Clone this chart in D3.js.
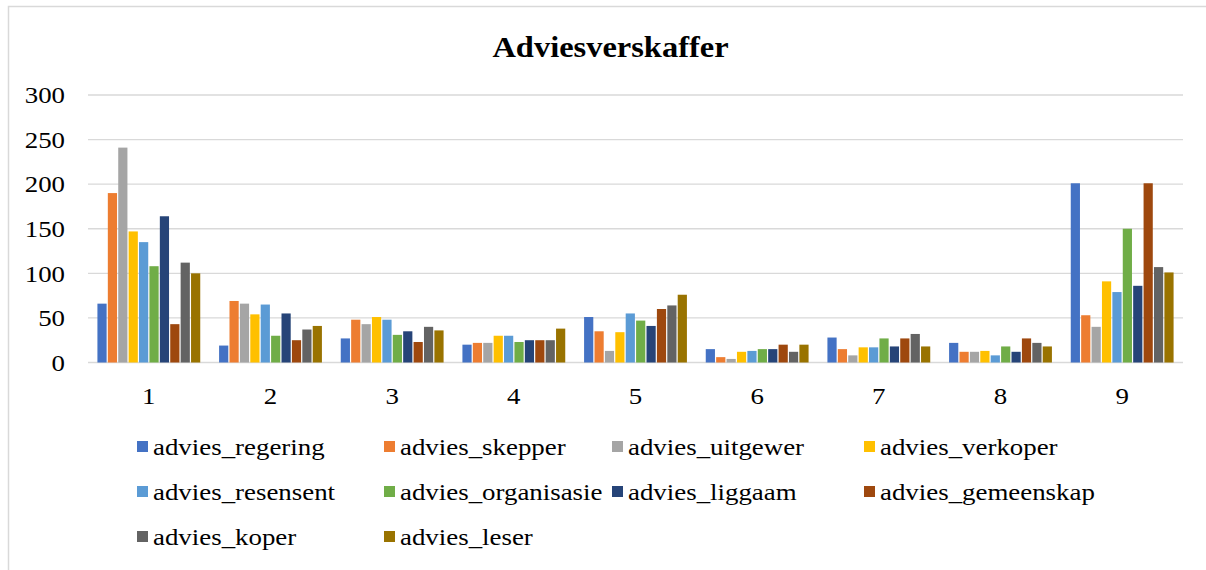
<!DOCTYPE html>
<html><head><meta charset="utf-8">
<script src="https://cdn.jsdelivr.net/npm/d3@7"></script>
<style>body{margin:0;background:#fff}svg{display:block}</style>
</head><body><svg id="c" width="1206" height="570"></svg>
<script>
const categories = ["1","2","3","4","5","6","7","8","9"];
const seriesNames = ["advies_regering","advies_skepper","advies_uitgewer","advies_verkoper","advies_resensent","advies_organisasie","advies_liggaam","advies_gemeenskap","advies_koper","advies_leser"];
const seriesColors = ["#4472C4","#ED7D31","#A5A5A5","#FFC000","#5B9BD5","#70AD47","#264478","#9E480E","#636363","#997300"];
const advies_regering    = [66, 19, 27, 20, 51, 15, 28, 22, 201];
const advies_skepper     = [190, 69, 48, 22, 35, 6, 15, 12, 53];
const advies_uitgewer    = [241, 66, 43, 22, 13, 4, 8, 12, 40];
const advies_verkoper    = [147, 54, 51, 30, 34, 12, 17, 13, 91];
const advies_resensent   = [135, 65, 48, 30, 55, 13, 17, 8, 79];
const advies_organisasie = [108, 30, 31, 23, 47, 15, 27, 18, 150];
const advies_liggaam     = [164, 55, 35, 25, 41, 15, 18, 12, 86];
const advies_gemeenskap  = [43, 25, 23, 25, 60, 20, 27, 27, 201];
const advies_koper       = [112, 37, 40, 25, 64, 12, 32, 22, 107];
const advies_leser       = [100, 41, 36, 38, 76, 20, 18, 18, 101];
const yTicks = [0, 50, 100, 150, 200, 250, 300];
const title = "Adviesverskaffer";

const seriesValues = [advies_regering, advies_skepper, advies_uitgewer, advies_verkoper, advies_resensent,
  advies_organisasie, advies_liggaam, advies_gemeenskap, advies_koper, advies_leser];

const FONT = "'Liberation Serif', Tinos, 'Times New Roman', serif";
const SX = 1.12; // horizontal stretch of the reference's text
const svg = d3.select("#c");
svg.append("rect").attr("x",8.5).attr("y",6.5).attr("width",1300).attr("height",700)
  .attr("fill","none").attr("stroke","#d9d9d9").attr("stroke-width",1.5);

const plot = {left:88, right:1183, top:95, bottom:362.5};
const x = d3.scaleBand().domain(categories).range([plot.left, plot.right]).paddingInner(0.145).paddingOuter(0.0725);
const xs = d3.scaleBand().domain(seriesNames).range([0, x.bandwidth()]);
const y = d3.scaleLinear().domain([0,300]).range([plot.bottom, plot.top]);

svg.append("g").selectAll("line").data(yTicks).join("line")
  .attr("x1",plot.left).attr("x2",plot.right)
  .attr("y1",d=>y(d)).attr("y2",d=>y(d))
  .attr("stroke","#d9d9d9").attr("stroke-width",1.3);

const yAxis = d3.axisLeft(y).tickValues(yTicks).tickSize(0).tickPadding(23/SX);
const ya = svg.append("g").attr("transform",`translate(${plot.left},0)`).call(yAxis)
  .attr("font-family",FONT).attr("font-size",24);
ya.select(".domain").remove();
ya.selectAll("text").attr("fill","#000").attr("transform",`scale(${SX},1)`);

const xAxis = d3.axisBottom(x).tickSize(0).tickPadding(24);
const xa = svg.append("g").attr("transform",`translate(0,${plot.bottom})`).call(xAxis)
  .attr("font-family",FONT).attr("font-size",24);
xa.select(".domain").remove();
xa.selectAll("text").attr("fill","#000").attr("transform",`scale(${SX},1)`);

const groups = svg.append("g").selectAll("g").data(categories).join("g")
  .attr("transform",d=>`translate(${x(d)},0)`);
groups.selectAll("rect").data((c,i)=>seriesNames.map((s,k)=>({s, v:seriesValues[k][i], k})))
  .join("rect")
  .attr("x",d=>xs(d.s)+0.6).attr("width",xs.bandwidth()-1.2)
  .attr("y",d=>y(d.v)).attr("height",d=>y(0)-y(d.v))
  .attr("fill",d=>seriesColors[d.k]);

svg.append("text").attr("transform",`translate(610.5,57) scale(${SX},1)`).attr("text-anchor","middle")
  .attr("font-family",FONT).attr("font-size",29).attr("font-weight","bold").text(title);

const colX = [137, 384, 612, 864];
const rowY = [447, 492, 537];
const leg = svg.append("g").attr("font-family",FONT).attr("font-size",24)
  .selectAll("g").data(seriesNames).join("g")
  .attr("transform",(d,i)=>`translate(${colX[i%4]},${rowY[Math.floor(i/4)]})`);
leg.append("rect").attr("x",0).attr("y",-6).attr("width",11).attr("height",11).attr("fill",(d,i)=>seriesColors[i]);
leg.append("text").attr("transform",`translate(16,8) scale(${SX},1)`).text(d=>d);
</script></body></html>
